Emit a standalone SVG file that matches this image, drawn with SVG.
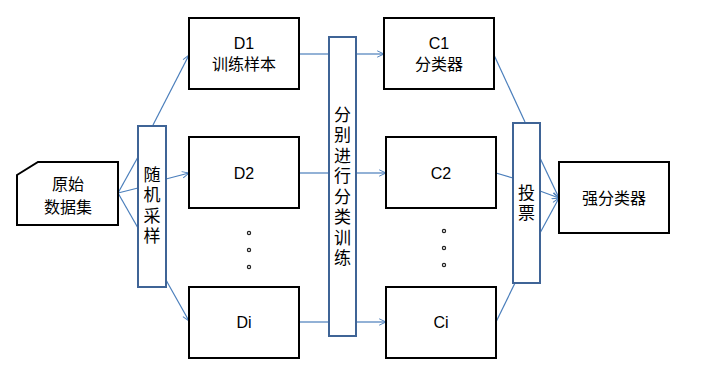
<svg xmlns="http://www.w3.org/2000/svg" width="705" height="367" viewBox="0 0 705 367">
<defs>
<style>
.box{fill:#fff;stroke:#000;stroke-width:2}
.bar{fill:#fff;stroke:#3f6496;stroke-width:2}
.ln{fill:none;stroke:#4a7ebb;stroke-width:1.2}
.t{font-family:"Liberation Sans","Noto Sans CJK SC",sans-serif;font-size:16px;fill:#000;text-anchor:middle}
.v{font-family:"Noto Sans CJK SC",sans-serif;font-size:17px;fill:#000;writing-mode:vertical-rl;text-orientation:upright;letter-spacing:3.5px}
.dot{fill:none;stroke:#222;stroke-width:1.2}
</style>
<marker id="arr" viewBox="0 0 10 10" refX="9.5" refY="5" markerWidth="8" markerHeight="8" markerUnits="userSpaceOnUse" orient="auto">
<path d="M1,1 L9.5,5 L1,9" fill="none" stroke="#4a7ebb" stroke-width="1.2"/>
</marker>
</defs>
<g id="connectors">
<line class="ln" x1="118" y1="193" x2="138" y2="157"/>
<line class="ln" x1="118" y1="193" x2="138" y2="188"/>
<line class="ln" x1="118" y1="193" x2="138" y2="228"/>
<line class="ln" x1="153" y1="125" x2="189" y2="55" marker-end="url(#arr)"/>
<line class="ln" x1="166" y1="179" x2="189" y2="173" marker-end="url(#arr)"/>
<line class="ln" x1="166" y1="280" x2="189" y2="321" marker-end="url(#arr)"/>
<line class="ln" x1="299" y1="54" x2="329" y2="54"/>
<line class="ln" x1="356" y1="54" x2="384" y2="54" marker-end="url(#arr)"/>
<line class="ln" x1="299" y1="173" x2="329" y2="173"/>
<line class="ln" x1="356" y1="173" x2="386" y2="173" marker-end="url(#arr)"/>
<line class="ln" x1="299" y1="322" x2="329" y2="322"/>
<line class="ln" x1="356" y1="322" x2="386" y2="322" marker-end="url(#arr)"/>
<line class="ln" x1="494" y1="55" x2="525" y2="122"/>
<line class="ln" x1="496" y1="173" x2="513" y2="178"/>
<line class="ln" x1="496" y1="322" x2="515" y2="283"/>
<line class="ln" x1="540" y1="158" x2="559" y2="198" marker-end="url(#arr)"/>
<line class="ln" x1="540" y1="191" x2="559" y2="198" marker-end="url(#arr)"/>
<line class="ln" x1="540" y1="233" x2="559" y2="198" marker-end="url(#arr)"/>
</g>
<g id="raw">
<path class="box" d="M17,175 L38,162 L118,162 L118,225 L17,225 Z"/>
<text class="t" x="68" y="190">原始</text>
<text class="t" x="68" y="213">数据集</text>
</g>
<g id="sample">
<rect class="bar" x="138" y="126" width="28" height="161"/>
<text class="v" x="152" y="166">随机采样</text>
</g>
<g id="d1">
<rect class="box" x="189" y="18" width="110" height="71"/>
<text class="t" x="244" y="49">D1</text>
<text class="t" x="244" y="70">训练样本</text>
</g>
<g id="d2">
<rect class="box" x="189" y="137" width="110" height="71"/>
<text class="t" x="244" y="179">D2</text>
</g>
<g id="dn">
<rect class="box" x="189" y="287" width="110" height="71"/>
<text class="t" x="244" y="328">Di</text>
</g>
<g id="dots-d">
<circle class="dot" cx="249" cy="233" r="1.6"/>
<circle class="dot" cx="249" cy="250" r="1.6"/>
<circle class="dot" cx="249" cy="267" r="1.6"/>
</g>
<g id="train">
<rect class="bar" x="329" y="37" width="27" height="299"/>
<text class="v" x="342.5" y="106">分别进行分类训练</text>
</g>
<g id="c1">
<rect class="box" x="384" y="18" width="110" height="71"/>
<text class="t" x="439" y="49">C1</text>
<text class="t" x="439" y="70">分类器</text>
</g>
<g id="c2">
<rect class="box" x="386" y="137" width="110" height="71"/>
<text class="t" x="441" y="179">C2</text>
</g>
<g id="cn">
<rect class="box" x="386" y="287" width="110" height="71"/>
<text class="t" x="441" y="328">Ci</text>
</g>
<g id="dots-c">
<circle class="dot" cx="444" cy="231" r="1.6"/>
<circle class="dot" cx="444" cy="248" r="1.6"/>
<circle class="dot" cx="444" cy="265" r="1.6"/>
</g>
<g id="vote">
<rect class="bar" x="513" y="123" width="27" height="160"/>
<text class="v" x="526.5" y="184">投票</text>
</g>
<g id="strong">
<rect class="box" x="559" y="162" width="110" height="71"/>
<text class="t" x="614" y="204">强分类器</text>
</g>
</svg>
